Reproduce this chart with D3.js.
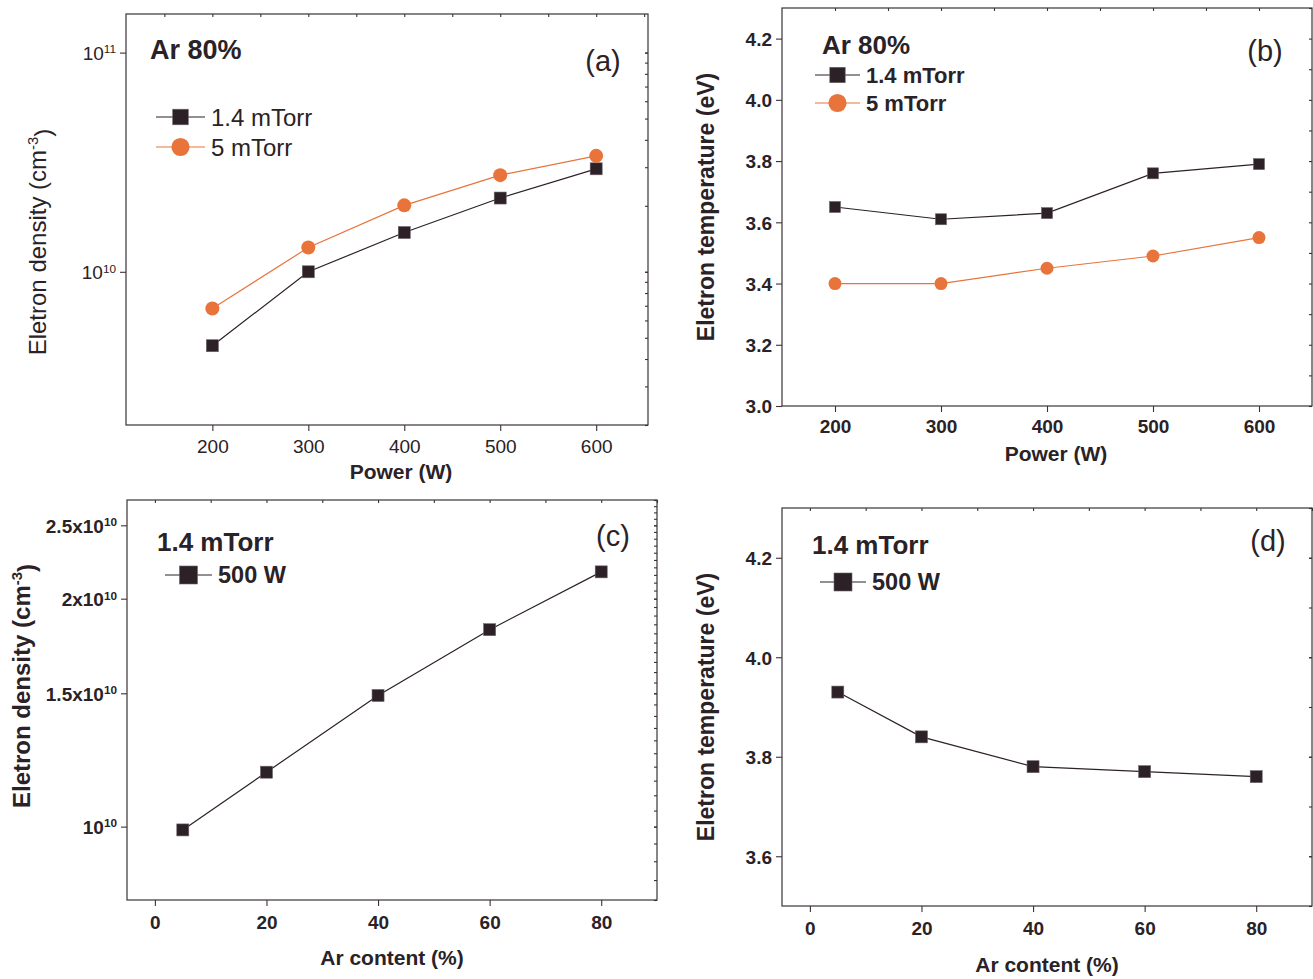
<!DOCTYPE html>
<html>
<head>
<meta charset="utf-8">
<script src="https://cdn.jsdelivr.net/npm/d3@7"></script>
<style>
  body { margin: 0; background: #fff; }
  svg text { fill: #2a2226; }
  .reg { font-family: "Liberation Sans", Arial, sans-serif; }
  .bld { font-family: "Liberation Sans", Arial, sans-serif; font-weight: bold; }
</style>
</head>
<body>
<div id="chart"></div>
<script>
// data
var powerW = [200, 300, 400, 500, 600];
var densA_14 = [4.6e9, 1.0e10, 1.51e10, 2.17e10, 2.95e10];
var densA_5 = [6.8e9, 1.29e10, 2.01e10, 2.76e10, 3.38e10];
var tempB_14 = [3.65, 3.61, 3.63, 3.76, 3.79];
var tempB_5 = [3.40, 3.40, 3.45, 3.49, 3.55];
var arContent = [5, 20, 40, 60, 80];
var densC = [9.9e9, 1.18e10, 1.49e10, 1.82e10, 2.17e10];
var tempD = [3.93, 3.84, 3.78, 3.77, 3.76];

var powerTicks = [200, 300, 400, 500, 600];
var arTicks = [0, 20, 40, 60, 80];
var densATicks = [1e10, 1e11];
var densCTicks = [1e10, 1.5e10, 2e10, 2.5e10];
var tempBTicks = [3.0, 3.2, 3.4, 3.6, 3.8, 4.0, 4.2];
var tempDTicks = [3.6, 3.8, 4.0, 4.2];

var DARK = "#2d2128", ORANGE = "#e8743b", AXIS = "#3b3237";

var svg = d3.select("#chart").append("svg")
    .attr("width", 1313)
    .attr("height", 979);

// label like 10^11 or 2.5x10^10
function sciLabel(sel, d) {
    var e = Math.floor(Math.log10(d) + 1e-9);
    var m = d / Math.pow(10, e);
    sel.text(null);
    if (Math.abs(m - 1) > 1e-6) sel.append("tspan").text(d3.format("~g")(m) + "x");
    sel.append("tspan").text("10");
    sel.append("tspan").attr("dy", "-0.55em").attr("font-size", "0.62em").text(e);
}

function panel(p) {
    var g = svg.append("g");
    var x = d3.scaleLinear().domain(p.xDom).range([p.left, p.right]);
    var y = (p.log ? d3.scaleLog() : d3.scaleLinear()).domain(p.yDom).range([p.bottom, p.top]);
    var cls = p.boldTicks ? "bld" : "reg";

    // frame
    g.append("rect")
        .attr("x", p.left).attr("y", p.top)
        .attr("width", p.right - p.left).attr("height", p.bottom - p.top)
        .attr("fill", "none").attr("stroke", AXIS).attr("stroke-width", 1.2);

    // bottom axis, minor then major
    var xa = g.append("g").attr("transform", "translate(0," + p.bottom + ")");
    xa.call(d3.axisBottom(x).tickValues(p.xMinor).tickSize(5).tickFormat(""));
    xa.call(d3.axisBottom(x).tickValues(p.xTicks).tickSize(6).tickFormat(d3.format("d")));
    xa.selectAll(".domain").remove();
    xa.selectAll("text").attr("class", cls).attr("font-size", p.tickFont).attr("dy", "1.05em")
        .attr("y", p.xLabOff).attr("fill", "#2a2226");

    var ya = g.append("g").attr("transform", "translate(" + p.left + ",0)");
    ya.call(d3.axisLeft(y).tickValues(p.yMinor).tickSize(3).tickFormat(""));
    ya.call(d3.axisLeft(y).tickValues(p.yTicks).tickSize(6));
    ya.selectAll(".domain").remove();
    ya.selectAll(".tick text").attr("class", cls).attr("font-size", p.tickFont).attr("fill", "#2a2226")
        .attr("x", -10).attr("dy", "0.36em")
        .each(function(d) {
            var t = d3.select(this);
            if (p.log) sciLabel(t, d);
            else t.text(d3.format(".1f")(d));
        });

    // mirrored ticks on top and right
    var ta = g.append("g").attr("transform", "translate(0," + p.top + ")");
    ta.call(d3.axisBottom(x).tickValues(p.xTicks.concat(p.xMinor)).tickSize(3).tickFormat(""));
    var ra = g.append("g").attr("transform", "translate(" + p.right + ",0)");
    ra.call(d3.axisLeft(y).tickValues(p.yTicks.concat(p.yMinor)).tickSize(3).tickFormat(""));
    ta.selectAll(".domain").remove();
    ra.selectAll(".domain").remove();
    g.selectAll("line").attr("stroke", AXIS).attr("stroke-width", 1.1);

    // series
    p.series.forEach(function(s) {
        var pts = p.xs.map(function(v, i) { return [x(v), y(s.values[i])]; });
        g.append("path")
            .attr("d", d3.line()(pts))
            .attr("fill", "none").attr("stroke", s.color).attr("stroke-width", 1.2);
        drawMarker(g, s, pts);
    });

    // axis titles
    g.append("text").attr("class", "bld")
        .attr("x", p.xTitle[0]).attr("y", p.xTitle[1])
        .attr("text-anchor", "middle").attr("font-size", 21)
        .text(p.xLabel);
    var yt = g.append("text").attr("class", p.boldYTitle ? "bld" : "reg")
        .attr("transform", "translate(" + p.yTitle[0] + "," + p.yTitle[1] + ") rotate(-90)")
        .attr("text-anchor", "middle").attr("dy", "0.35em").attr("font-size", p.yFont);
    yt.append("tspan").text(p.yLabel);
    if (p.yUnit) {
        yt.append("tspan").text(" (cm");
        yt.append("tspan").attr("dy", "-0.55em").attr("font-size", "0.62em").text("-3");
        yt.append("tspan").attr("dy", "0.55em").text(")");
    }

    // heading and panel letter
    g.append("text").attr("class", "bld").attr("font-size", p.headFont)
        .attr("x", p.head[0]).attr("y", p.head[1]).text(p.heading);
    g.append("text").attr("class", "reg").attr("font-size", 29)
        .attr("x", p.letter[0]).attr("y", p.letter[1]).attr("text-anchor", "middle")
        .text(p.letterText);

    // legend
    p.series.forEach(function(s, i) {
        var ly = p.leg[1] + i * p.legGap;
        var lx = p.leg[0];
        g.append("line").attr("x1", lx).attr("x2", lx + p.legLen)
            .attr("y1", ly).attr("y2", ly)
            .attr("stroke", s.color).attr("stroke-width", 1.2);
        drawMarker(g, s, [[lx + p.legLen / 2, ly]], p.legScale);
        g.append("text").attr("class", p.boldLegend ? "bld" : "reg")
            .attr("font-size", p.legFont)
            .attr("x", lx + p.legLen + 6).attr("y", ly).attr("dy", "0.36em")
            .text(s.name);
    });
}

function drawMarker(g, s, pts, k) {
    k = k || 1;
    if (s.shape === "circle") {
        g.selectAll(null).data(pts).enter().append("circle")
            .attr("cx", function(d) { return d[0]; })
            .attr("cy", function(d) { return d[1]; })
            .attr("r", s.size / 2 * k)
            .attr("fill", s.color);
    } else {
        var h = s.size * k;
        g.selectAll(null).data(pts).enter().append("rect")
            .attr("x", function(d) { return d[0] - h / 2; })
            .attr("y", function(d) { return d[1] - h / 2; })
            .attr("width", h).attr("height", h)
            .attr("fill", s.color).attr("stroke", "#6b6268").attr("stroke-width", 0.6);
    }
}

function logMinor(lo, hi) {
    var out = [];
    for (var e = 9; e <= 11; e++)
        for (var m = 1; m <= 9; m++) {
            var v = m * Math.pow(10, e);
            if (v >= lo && v <= hi) out.push(v);
        }
    return out;
}
function linMinor(lo, hi, step) {
    var out = [];
    for (var v = lo; v <= hi + 1e-9; v += step) out.push(+v.toFixed(6));
    return out;
}

panel({
    left: 126, right: 648, top: 14, bottom: 425,
    xDom: [110, 654], yDom: [2e9, 1.5e11], log: true,
    xTicks: powerTicks, xMinor: [150, 250, 350, 450, 550, 650],
    yTicks: densATicks, yMinor: logMinor(2e9, 1.5e11),
    xLabOff: 8, boldTicks: false, tickFont: 19,
    xs: powerW,
    series: [
        { name: "1.4 mTorr", values: densA_14, color: DARK, shape: "square", size: 12 },
        { name: "5 mTorr", values: densA_5, color: ORANGE, shape: "circle", size: 14 }
    ],
    xLabel: "Power (W)", xTitle: [401, 479],
    yLabel: "Eletron density", yUnit: true, yTitle: [38, 242], boldYTitle: false, yFont: 24,
    heading: "Ar 80%", head: [150, 59], headFont: 27,
    letterText: "(a)", letter: [603, 71],
    leg: [156, 117], legGap: 30, legLen: 49, legScale: 1.3, boldLegend: false, legFont: 24
});

panel({
    left: 782, right: 1312, top: 8, bottom: 406,
    xDom: [150, 650], yDom: [3.0, 4.3], log: false,
    xTicks: powerTicks, xMinor: [250, 350, 450, 550],
    yTicks: tempBTicks, yMinor: linMinor(3.1, 4.3, 0.2),
    xLabOff: 7, boldTicks: true, tickFont: 19,
    xs: powerW,
    series: [
        { name: "1.4 mTorr", values: tempB_14, color: DARK, shape: "square", size: 11 },
        { name: "5 mTorr", values: tempB_5, color: ORANGE, shape: "circle", size: 13 }
    ],
    xLabel: "Power (W)", xTitle: [1056, 461],
    yLabel: "Eletron temperature (eV)", yTitle: [706, 207], boldYTitle: true, yFont: 23,
    heading: "Ar 80%", head: [822, 54], headFont: 26,
    letterText: "(b)", letter: [1265, 61],
    leg: [815, 75], legGap: 28, legLen: 45, legScale: 1.4, boldLegend: true, legFont: 22
});

panel({
    left: 127, right: 657, top: 500, bottom: 900,
    xDom: [-5, 90], yDom: [8e9, 2.7e10], log: true,
    xTicks: arTicks, xMinor: [10, 30, 50, 70, 90],
    yTicks: densCTicks, yMinor: linMinor(8e9, 2.7e10, 5e8),
    xLabOff: 9, boldTicks: true, tickFont: 19,
    xs: arContent,
    series: [
        { name: "500 W", values: densC, color: DARK, shape: "square", size: 12 }
    ],
    xLabel: "Ar content (%)", xTitle: [392, 965],
    yLabel: "Eletron density", yUnit: true, yTitle: [22, 686], boldYTitle: true, yFont: 24,
    heading: "1.4 mTorr", head: [157, 551], headFont: 26,
    letterText: "(c)", letter: [613, 546],
    leg: [165, 575], legGap: 0, legLen: 47, legScale: 1.5, boldLegend: true, legFont: 23.5
});

panel({
    left: 782, right: 1312, top: 508, bottom: 906,
    xDom: [-5, 90], yDom: [3.5, 4.3], log: false,
    xTicks: arTicks, xMinor: [10, 30, 50, 70, 90],
    yTicks: tempDTicks, yMinor: linMinor(3.5, 4.3, 0.1),
    xLabOff: 9, boldTicks: true, tickFont: 19,
    xs: arContent,
    series: [
        { name: "500 W", values: tempD, color: DARK, shape: "square", size: 12 }
    ],
    xLabel: "Ar content (%)", xTitle: [1047, 972],
    yLabel: "Eletron temperature (eV)", yTitle: [706, 707], boldYTitle: true, yFont: 23,
    heading: "1.4 mTorr", head: [812, 554], headFont: 26,
    letterText: "(d)", letter: [1268, 551],
    leg: [820, 582], legGap: 0, legLen: 46, legScale: 1.5, boldLegend: true, legFont: 23.5
});
</script>
</body>
</html>
